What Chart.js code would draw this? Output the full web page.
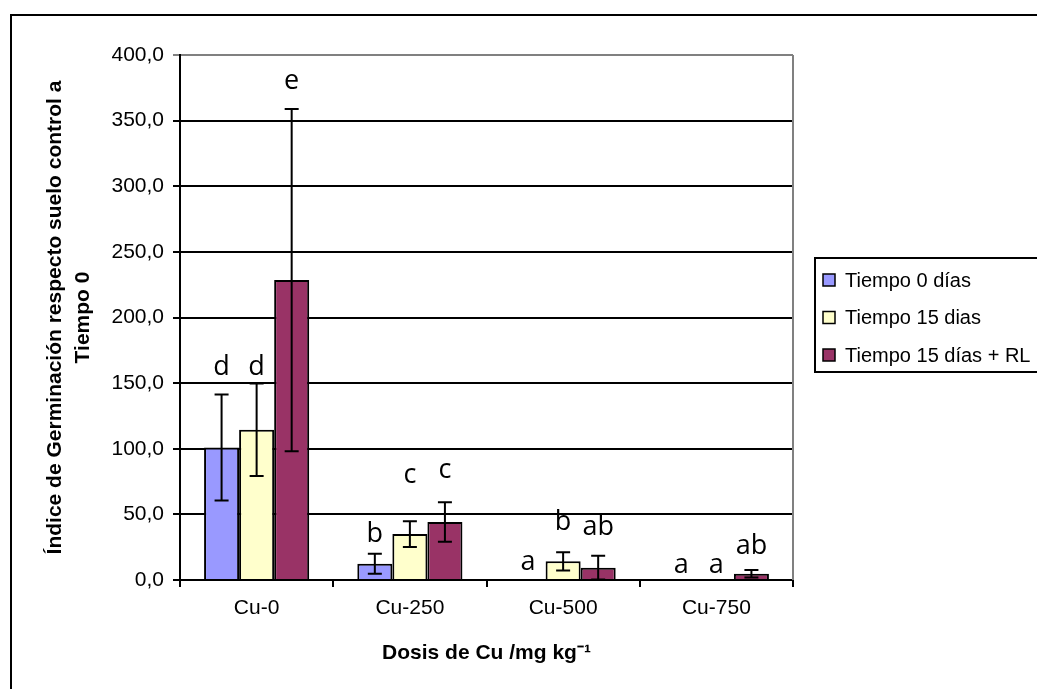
<!DOCTYPE html>
<html lang="es">
<head>
<meta charset="UTF-8">
<title>Índice de Germinación - Dosis de Cu</title>
<script src="https://cdn.jsdelivr.net/npm/chart.js"></script>
<style>
  html, body { margin: 0; padding: 0; background: #fff; }
  #wrap { width: 1037px; height: 689px; }
</style>
</head>
<body>
<div id="wrap"><canvas id="germChart" width="1037" height="689"></canvas></div>
<script>
// data
const categories = ['Cu-0', 'Cu-250', 'Cu-500', 'Cu-750'];
const seriesNames = ['Tiempo 0 días', 'Tiempo 15 dias', 'Tiempo 15 días + RL'];
const t0Values = [101, 12.4, 0, 0];
const t15Values = [114.5, 35, 14.2, 0];
const rlValues = [228.5, 44.2, 9.4, 4.8];
const t0Errors = [40.4, 7.6, 0, 0];
const t15Errors = [35.3, 9.8, 6.9, 0];
const rlErrors = [130.4, 15.1, 9, 2.8];
// significance letters and where their baseline sits (in axis units)
const t0Letters = ['d', 'b', 'a', 'a'];
const t15Letters = ['d', 'c', 'b', 'a'];
const rlLetters = ['e', 'c', 'ab', 'ab'];
const t0LetterAt = [156, 29, 7.6, 5];
const t15LetterAt = [156, 74, 38, 5];
const rlLetterAt = [374, 77.5, 34, 20];
const yTickLabels = ['0,0', '50,0', '100,0', '150,0', '200,0', '250,0', '300,0', '350,0', '400,0'];

const colors = ['#9999FF', '#FFFFCC', '#993366'];
const errors = [t0Errors, t15Errors, rlErrors];
const letters = [t0Letters, t15Letters, rlLetters];
const letterAt = [t0LetterAt, t15LetterAt, rlLetterAt];

const frameAndBorder = {
  id: 'frameAndBorder',
  beforeDraw(chart) {
    const c = chart.ctx;
    c.save();
    c.strokeStyle = '#000';
    c.lineWidth = 2;
    c.strokeRect(11, 15, 1100, 800);
    c.restore();
  },
  afterDraw(chart) {
    const c = chart.ctx, a = chart.chartArea;
    c.save();
    c.strokeStyle = '#808080';
    c.lineWidth = 2;
    c.beginPath();
    c.moveTo(a.right, a.top);
    c.lineTo(a.right, a.bottom);
    c.stroke();
    c.restore();
  }
};

const errorBars = {
  id: 'errorBars',
  afterDatasetsDraw(chart) {
    const c = chart.ctx, y = chart.scales.y;
    c.save();
    c.strokeStyle = '#000';
    c.lineWidth = 2;
    chart.data.datasets.forEach((ds, di) => {
      const meta = chart.getDatasetMeta(di);
      meta.data.forEach((bar, i) => {
        const e = errors[di][i];
        if (!e) return;
        const v = ds.data[i];
        const top = y.getPixelForValue(v + e);
        const bot = y.getPixelForValue(Math.max(0, v - e));
        c.beginPath();
        c.moveTo(bar.x, top); c.lineTo(bar.x, bot);
        c.moveTo(bar.x - 7, top); c.lineTo(bar.x + 7, top);
        c.moveTo(bar.x - 7, bot); c.lineTo(bar.x + 7, bot);
        c.stroke();
      });
    });
    // letters above the bars
    c.fillStyle = '#000';
    c.font = '27px "Open Sans"';
    c.textAlign = 'center';
    c.textBaseline = 'alphabetic';
    chart.data.datasets.forEach((ds, di) => {
      chart.getDatasetMeta(di).data.forEach((bar, i) => {
        c.fillText(letters[di][i], bar.x, y.getPixelForValue(letterAt[di][i]));
      });
    });
    c.restore();
  }
};

const boxLegend = {
  id: 'boxLegend',
  afterDraw(chart) {
    const c = chart.ctx;
    c.save();
    c.strokeStyle = '#000';
    c.lineWidth = 2;
    c.strokeRect(815, 258, 300, 114);
    c.font = '20px "Liberation Sans", Arial, sans-serif';
    c.textBaseline = 'middle';
    c.textAlign = 'left';
    chart.data.datasets.forEach((ds, i) => {
      const cy = 280 + i * 37.5;
      c.fillStyle = ds.backgroundColor;
      c.fillRect(823, cy - 6, 12, 12);
      c.lineWidth = 1.5;
      c.strokeRect(823, cy - 6, 12, 12);
      c.fillStyle = '#000';
      c.fillText(ds.label, 845, cy + 1);
    });
    c.restore();
  }
};

const tickFont = { family: '"Liberation Sans", Arial, sans-serif', size: 21 };
const titleFont = { family: '"Liberation Sans", Arial, sans-serif', size: 21, weight: 'bold', lineHeight: 1.35 };

new Chart(document.getElementById('germChart'), {
  type: 'bar',
  data: {
    labels: categories,
    datasets: [
      { label: seriesNames[0], data: t0Values, backgroundColor: colors[0] },
      { label: seriesNames[1], data: t15Values, backgroundColor: colors[1] },
      { label: seriesNames[2], data: rlValues, backgroundColor: colors[2] }
    ]
  },
  options: {
    responsive: false,
    animation: false,
    devicePixelRatio: 1,
    layout: { padding: { left: 0, top: 55, right: 244, bottom: 0 } },
    datasets: {
      bar: { borderColor: '#000', borderWidth: 2, barPercentage: 1, categoryPercentage: 0.686 }
    },
    plugins: {
      legend: { display: false },
      tooltip: { enabled: false }
    },
    scales: {
      x: {
        afterFit(scale) { scale.height = 109; },
        grid: { offset: true, drawOnChartArea: false, drawTicks: true, tickLength: 7, color: '#000', lineWidth: 2 },
        border: { color: '#000', width: 2 },
        ticks: { color: '#000', font: tickFont, padding: 9 },
        title: {
          display: true,
          text: 'Dosis de Cu /mg kg⁻¹',
          color: '#000',
          font: titleFont,
          padding: { top: 0, bottom: 22 }
        }
      },
      y: {
        min: 0,
        max: 400,
        afterFit(scale) { scale.width = 180; },
        ticks: {
          stepSize: 50,
          color: '#000',
          font: tickFont,
          padding: 9,
          callback: (v, i) => yTickLabels[i]
        },
        grid: {
          color: ctx => (ctx.tick && ctx.tick.value === 400 ? '#808080' : '#000'),
          lineWidth: 2,
          tickLength: 7
        },
        border: { color: '#000', width: 2 },
        title: {
          display: true,
          text: ['Índice de Germinación respecto suelo control a', 'Tiempo 0'],
          color: '#000',
          font: titleFont,
          padding: { top: 41, bottom: 0 }
        }
      }
    }
  },
  plugins: [frameAndBorder, errorBars, boxLegend]
});
</script>
</body>
</html>
